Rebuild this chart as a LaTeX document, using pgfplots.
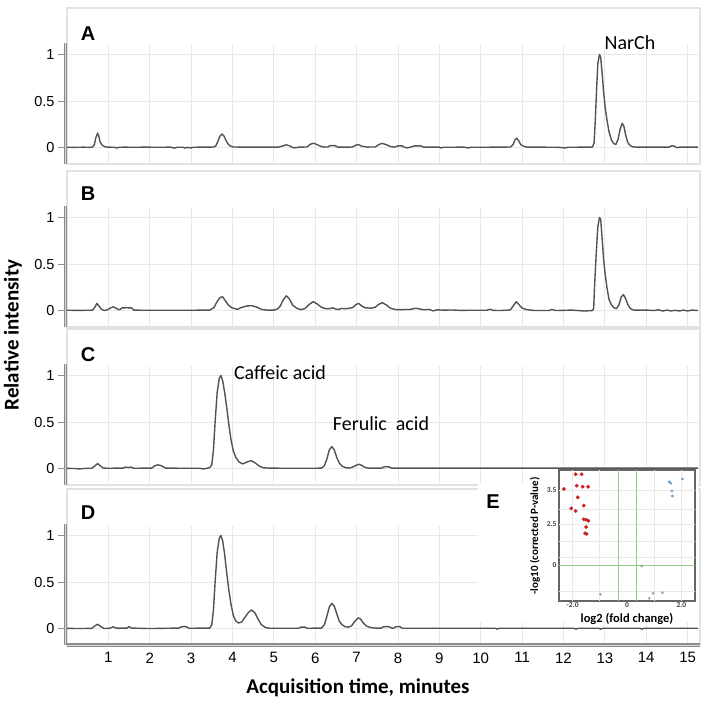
\documentclass[border=0pt]{standalone}
\usepackage{pgfplots}
\pgfplotsset{compat=1.18}
\usepackage{fontspec}
\setmainfont{Liberation Sans}
\newfontfamily\calib{Carlito}

\definecolor{trace}{RGB}{82,82,82}
\definecolor{framec}{RGB}{226,226,226}
\definecolor{gridc}{RGB}{232,232,232}
\definecolor{axc}{RGB}{140,140,140}
\definecolor{volred}{RGB}{200,35,35}
\definecolor{volblue}{RGB}{110,160,215}
\definecolor{volgrey}{RGB}{165,165,165}
\definecolor{volgreen}{RGB}{150,205,140}

\pgfplotsset{
  chrom/.style={
    scale only axis, width=633pt, height=156pt,
    xmin=0, xmax=15.3, ymin=-0.177, ymax=1.5,
    clip=false,
    axis line style={draw=framec, line width=1.6pt},
    xtick=\empty,
    ytick={0,0.5,1}, yticklabels={0,0.5,1},
    tick style={draw=none},
    ymajorgrids, grid style={gridc, line width=0.8pt},
    yticklabel style={font=\fontsize{14.5}{14.5}\selectfont, xshift=-9pt},
  },
  trc/.style={trace, line width=1.4pt, line join=round},
}

% vertical grid lines and the grey left axis of each panel
\newcommand{\vgrid}{%
  \pgfplotsinvokeforeach{1,...,15}{\draw[gridc, line width=0.8pt] (axis cs:##1,-0.177) -- (axis cs:##1,1.1);}}
\newcommand{\leftaxis}{%
  \draw[axc, line width=3.4pt] ([xshift=-1.5pt]axis cs:0,-0.177) -- ([xshift=-1.5pt]axis cs:0,1.12);
  \draw[axc!35!white, line width=0.9pt] ([xshift=-1.5pt]axis cs:0,-0.177) -- ([xshift=-1.5pt]axis cs:0,1.12);
  \pgfplotsinvokeforeach{0,0.5,1}{\draw[axc, line width=0.9pt] ([xshift=-9pt]axis cs:0,##1) -- ([xshift=-3pt]axis cs:0,##1);}}

\begin{document}
\begin{tikzpicture}
\path[use as bounding box] (0,0) rectangle (714pt,-715pt);

% ---- A ----
\begin{axis}[chrom, at={(67pt,-164pt)}, anchor=south west]
\vgrid \leftaxis
\addplot[trc] coordinates {
(0,0.003) (0.2,0.002) (0.4,0.004) (0.55,0.002) (0.62,0.006) (0.66,0.03) (0.70,0.11) (0.74,0.155)
(0.77,0.12) (0.80,0.06) (0.85,0.025) (0.92,0.008) (1.0,0.004) (1.15,0.003) (1.2,-0.006) (1.25,0.003)
(1.4,0.004) (1.6,0.003) (1.9,0.004) (2.2,0.003) (2.5,0.004) (2.6,-0.006) (2.65,0.003) (2.8,0.003)
(2.85,-0.006) (2.9,0.002) (3.0,-0.005) (3.05,0.003) (3.2,0.004) (3.4,0.004) (3.55,0.006) (3.6,0.02)
(3.65,0.07) (3.7,0.125) (3.75,0.145) (3.8,0.12) (3.85,0.07) (3.9,0.035) (3.95,0.015) (4.02,0.006)
(4.3,0.004) (4.7,0.004) (5.1,0.004) (5.2,0.015) (5.3,0.03) (5.38,0.018) (5.45,0.002) (5.5,-0.004)
(5.6,0.004) (5.8,0.006) (5.88,0.035) (5.96,0.047) (6.05,0.03) (6.15,0.01) (6.22,0.005) (6.3,0.006)
(6.36,0.02) (6.48,0.02) (6.55,0.004) (6.8,0.004) (6.9,0.006) (6.98,0.025) (7.04,0.032) (7.12,0.015)
(7.25,0.005) (7.45,0.006) (7.55,0.035) (7.62,0.045) (7.72,0.03) (7.82,0.01) (7.92,0.005) (8.0,0.018)
(8.1,0.018) (8.16,0.003) (8.22,-0.004) (8.3,0.004) (8.4,0.018) (8.55,0.018) (8.62,0.004) (9.0,0.004)
(9.05,-0.005) (9.1,0.003) (9.6,0.004) (9.7,-0.005) (9.75,0.003) (10.5,0.004) (10.72,0.006) (10.78,0.03)
(10.83,0.085) (10.87,0.10) (10.92,0.07) (10.97,0.03) (11.05,0.012) (11.12,0.005) (11.5,0.004)
(11.9,0.002) (12.05,-0.005) (12.1,0.003) (12.5,0.004) (12.7,0.005) (12.74,0.05) (12.77,0.3)
(12.80,0.62) (12.83,0.9) (12.87,1.0) (12.90,0.97) (12.93,0.82) (12.97,0.6) (13.01,0.42) (13.05,0.3)
(13.1,0.17) (13.16,0.08) (13.22,0.04) (13.27,0.035) (13.32,0.09) (13.37,0.2) (13.42,0.26) (13.46,0.23)
(13.5,0.14) (13.55,0.06) (13.6,0.025) (13.67,0.008) (13.75,0.005) (14.2,0.004) (14.55,0.004)
(14.62,0.02) (14.68,0.015) (14.74,-0.002) (14.8,0.004) (15.25,0.004)};
\end{axis}

% ---- B ----
\begin{axis}[chrom, at={(67pt,-327pt)}, anchor=south west]
\vgrid \leftaxis
\addplot[trc] coordinates {
(0,0.003) (0.3,0.002) (0.55,0.003) (0.62,0.005) (0.68,0.04) (0.72,0.077) (0.77,0.05) (0.83,0.015)
(0.9,0.0) (0.98,0.008) (1.06,0.03) (1.12,0.04) (1.2,0.02) (1.27,0.008) (1.33,0.028) (1.45,0.03)
(1.56,0.028) (1.62,0.004) (2.0,0.003) (2.5,0.003) (3.0,0.003) (3.45,0.005) (3.55,0.03) (3.62,0.09)
(3.7,0.14) (3.76,0.148) (3.82,0.11) (3.9,0.06) (3.98,0.03) (4.06,0.02) (4.12,0.012) (4.2,0.03)
(4.35,0.05) (4.47,0.052) (4.6,0.035) (4.7,0.012) (4.85,0.004) (5.0,0.005) (5.08,0.015) (5.15,0.045)
(5.22,0.11) (5.3,0.158) (5.37,0.13) (5.45,0.06) (5.55,0.025) (5.65,0.01) (5.75,0.02) (5.85,0.065)
(5.95,0.095) (6.05,0.07) (6.15,0.035) (6.25,0.02) (6.35,0.02) (6.42,0.03) (6.5,0.015) (6.58,0.012)
(6.62,0.022) (6.75,0.02) (6.9,0.03) (7.0,0.068) (7.05,0.077) (7.12,0.05) (7.2,0.03) (7.35,0.025)
(7.45,0.035) (7.53,0.065) (7.62,0.085) (7.72,0.06) (7.82,0.025) (7.95,0.01) (8.1,0.01) (8.3,0.012)
(8.42,0.025) (8.52,0.018) (8.62,0.008) (8.75,0.012) (8.85,-0.004) (8.95,0.008) (9.1,0.004) (9.3,0.006)
(9.5,0.002) (9.8,0.003) (10.15,0.003) (10.22,0.014) (10.3,0.002) (10.45,0.0) (10.65,0.004) (10.72,0.008)
(10.8,0.06) (10.86,0.095) (10.93,0.06) (11.0,0.028) (11.1,0.01) (11.3,0.0) (11.65,0.0) (11.72,0.012)
(11.8,0.0) (12.0,0.002) (12.2,0.005) (12.35,0.0) (12.5,-0.005) (12.7,0.0) (12.73,0.02) (12.75,0.25)
(12.79,0.6) (12.83,0.9) (12.87,1.0) (12.9,0.98) (12.93,0.8) (12.97,0.55) (13.0,0.42) (13.05,0.25)
(13.1,0.12) (13.16,0.06) (13.22,0.03) (13.28,0.02) (13.34,0.06) (13.4,0.15) (13.45,0.17) (13.5,0.13)
(13.56,0.06) (13.62,0.02) (13.7,0.005) (14.0,0.005) (14.2,0.0) (14.3,0.008) (14.4,-0.005) (14.5,0.005)
(14.6,-0.005) (14.7,0.003) (14.8,-0.005) (14.9,0.005) (15.0,-0.005) (15.1,0.005) (15.25,0.0)};
\end{axis}

% ---- C ----
\begin{axis}[chrom, at={(67pt,-485pt)}, anchor=south west]
\vgrid \leftaxis
\addplot[trc] coordinates {
(0,0.002) (0.2,0.0) (0.3,-0.004) (0.45,0.002) (0.6,0.003) (0.68,0.03) (0.74,0.054) (0.8,0.03)
(0.88,0.005) (1.0,0.003) (1.35,0.005) (1.42,0.015) (1.48,0.01) (1.55,0.015) (1.62,0.003) (2.05,0.005)
(2.12,0.03) (2.2,0.04) (2.28,0.03) (2.38,0.005) (2.8,0.003) (3.2,0.003) (3.3,-0.005) (3.45,0.01)
(3.5,0.04) (3.54,0.2) (3.58,0.5) (3.63,0.82) (3.68,0.97) (3.72,1.0) (3.76,0.95) (3.81,0.82)
(3.86,0.66) (3.91,0.48) (3.96,0.32) (4.02,0.19) (4.08,0.12) (4.16,0.07) (4.25,0.05) (4.35,0.07)
(4.45,0.085) (4.55,0.06) (4.65,0.025) (4.75,0.008) (4.9,0.004) (5.5,0.003) (6.0,0.003) (6.15,0.005)
(6.22,0.03) (6.28,0.1) (6.34,0.2) (6.4,0.236) (6.46,0.2) (6.52,0.12) (6.58,0.06) (6.65,0.025)
(6.75,0.008) (6.85,0.006) (6.95,0.025) (7.05,0.047) (7.12,0.035) (7.2,0.012) (7.3,0.004) (7.6,0.004)
(7.68,0.02) (7.78,0.018) (7.85,0.004) (8.5,0.004) (9.5,0.004) (11,0.004) (12.5,0.004) (14,0.004)
(15.25,0.004)};
\end{axis}

% ---- D ----
\begin{axis}[chrom, at={(67pt,-645pt)}, anchor=south west,
  xtick={1,2,3,4,5,6,7,8,9,10,11,12,13,14,15},
  xticklabels={1,2,3,4,5,6,7,8,9,10,11,12,13,14,15},
  xticklabel style={font=\fontsize{15}{15}\selectfont, yshift=-4pt}]
\vgrid \leftaxis
\draw[axc, line width=3.4pt] (axis cs:0,-0.177) -- (axis cs:15.3,-0.177);
\draw[axc!35!white, line width=0.9pt] (axis cs:0,-0.177) -- (axis cs:15.3,-0.177);
\addplot[trc] coordinates {
(0,0.002) (0.3,0.0) (0.6,0.002) (0.68,0.03) (0.74,0.047) (0.82,0.02) (0.9,0.0) (1.05,0.005)
(1.12,0.02) (1.18,0.005) (1.45,0.005) (1.5,0.02) (1.56,0.005) (2.0,0.0) (2.7,0.005) (2.78,0.02)
(2.88,0.02) (2.95,0.003) (3.45,0.005) (3.5,0.04) (3.54,0.2) (3.58,0.5) (3.63,0.82) (3.68,0.97)
(3.72,1.0) (3.76,0.95) (3.81,0.8) (3.86,0.6) (3.91,0.42) (3.96,0.27) (4.02,0.14) (4.08,0.08)
(4.15,0.06) (4.22,0.07) (4.3,0.12) (4.38,0.17) (4.46,0.2) (4.54,0.17) (4.62,0.1) (4.7,0.04)
(4.8,0.01) (4.9,0.003) (5.6,0.003) (5.65,0.015) (5.75,0.015) (5.8,0.003) (6.15,0.005) (6.22,0.04)
(6.28,0.13) (6.34,0.23) (6.4,0.27) (6.46,0.24) (6.52,0.16) (6.58,0.08) (6.65,0.04) (6.72,0.02)
(6.8,0.015) (6.88,0.03) (6.96,0.08) (7.04,0.115) (7.1,0.1) (7.16,0.06) (7.24,0.025) (7.35,0.01)
(7.45,0.005) (7.6,0.005) (7.65,0.02) (7.78,0.02) (7.85,0.005) (7.9,0.005) (7.95,0.02) (8.05,0.02)
(8.1,0.003) (9.0,0.003) (10.35,0.003) (10.4,-0.006) (10.45,0.003) (12.25,0.003) (12.3,-0.006)
(12.35,0.003) (12.85,0.003) (12.9,-0.006) (12.95,0.003) (13.85,0.003) (13.9,-0.006) (13.95,0.003)
(15.25,0.003)};
\end{axis}

% white patch behind the inset
\fill[white] (478pt,-483pt) rectangle (698pt,-622pt);

% ---- E (volcano inset) ----
\begin{axis}[scale only axis, width=136pt, height=131pt,
  at={(559pt,-601pt)}, anchor=south west,
  xmin=-2.5, xmax=2.5, ymin=0, ymax=131, clip=false,
  axis background/.style={fill=white},
  axis line style={draw=black!60, line width=1.2pt},
  xtick={-2,0,2}, xticklabels={-2.0,0,2.0},
  ytick={36,76.7,111}, yticklabels={0,2.5,3.5},
  tick style={draw=none},
  tick label style={font=\calib\bfseries\fontsize{7.5}{7.5}\selectfont, text=black!75},
  xticklabel style={yshift=2pt}, yticklabel style={xshift=1pt}]
\pgfplotsinvokeforeach{111,92,76.7,60,43.3,9.3}{\draw[gridc, line width=0.7pt] (axis cs:-2.5,#1) -- (axis cs:2.5,#1);}
\pgfplotsinvokeforeach{-2,-1,1,2}{\draw[gridc, line width=0.7pt] (axis cs:#1,0) -- (axis cs:#1,131);}
\draw[volgreen, line width=0.8pt] (axis cs:-2.5,36) -- (axis cs:2.5,36);
\draw[volgreen, line width=0.8pt] (axis cs:-0.31,0) -- (axis cs:-0.31,131);
\draw[volgreen, line width=0.8pt] (axis cs:0.33,0) -- (axis cs:0.33,131);
\addplot[only marks, mark=*, mark size=1.7pt, volred] coordinates {
(-1.89,126.7) (-1.67,126.7) (-2.32,112) (-1.85,115.3) (-1.63,114.3) (-1.43,114.3) (-1.81,103.7)
(-2.05,92.7) (-1.89,90) (-1.59,95.3) (-1.59,81.7) (-1.50,81.3) (-1.42,80.3) (-1.50,74) (-1.54,67.7)
(-1.48,67)};
\addplot[only marks, mark=*, mark size=1.2pt, volblue] coordinates {
(1.55,119.3) (1.61,117.7) (2.04,122) (1.65,110) (1.67,105)};
\addplot[only marks, mark=*, mark size=1.2pt, volgrey] coordinates {
(0.54,35) (-0.98,6.7) (0.96,7.7) (1.30,8.3) (0.82,2.7)};
\end{axis}

% labels
\node[font=\calib\bfseries\fontsize{11}{11}\selectfont, rotate=90] at (535pt,-536pt) {-log10 (corrected P-value)};
\node[font=\calib\bfseries\fontsize{12.5}{12.5}\selectfont] at (627pt,-619pt) {log2 (fold change)};

\foreach \L/\x/\y in {A/88/34, B/88/193.5, C/88/355, D/88/513, E/493/502}
  \node[font=\bfseries\fontsize{20}{20}\selectfont] at (\x pt,-\y pt) {\L};

\node[font=\calib\fontsize{20}{20}\selectfont] at (630pt,-42.5pt) {NarCh};
\node[font=\calib\fontsize{20}{20}\selectfont] at (280pt,-373pt) {Caffeic acid};
\node[font=\calib\fontsize{20}{20}\selectfont] at (381pt,-424pt) {Ferulic\ \ acid};

\node[font=\calib\bfseries\fontsize{21}{21}\selectfont, rotate=90] at (13pt,-335pt) {Relative intensity};
\node[font=\calib\bfseries\fontsize{21}{21}\selectfont] at (358pt,-688pt) {Acquisition time, minutes};
\end{tikzpicture}
\end{document}
